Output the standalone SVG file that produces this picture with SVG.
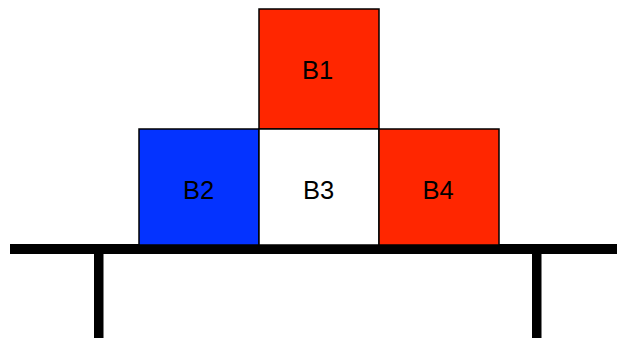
<svg xmlns="http://www.w3.org/2000/svg" width="617" height="338" viewBox="0 0 617 338">
<style>
.box{stroke:#000;stroke-width:1.5}
.red{fill:#FF2600}
.blue{fill:#0433FF}
.white{fill:#fff}
.lbl{font-family:"Liberation Sans",Arial,sans-serif;font-size:25.5px;fill:#000;text-anchor:middle}
.table{fill:#000}
</style>
<rect width="617" height="338" fill="#fff"/>
<g id="table">
<rect class="table" x="10" y="244" width="607" height="10"/>
<rect class="table" x="94" y="252" width="9.5" height="86"/>
<rect class="table" x="532" y="252" width="9.5" height="86"/>
</g>
<g id="B1">
<rect class="box red" x="259" y="9" width="120" height="120"/>
<text class="lbl" x="317.5" y="78.5">B1</text>
</g>
<g id="B2">
<rect class="box blue" x="139" y="129" width="120" height="116"/>
<text class="lbl" x="198.5" y="198.5">B2</text>
</g>
<g id="B3">
<rect class="box white" x="259" y="129" width="120" height="116"/>
<text class="lbl" x="318.5" y="198.5">B3</text>
</g>
<g id="B4">
<rect class="box red" x="379" y="129" width="120" height="116"/>
<text class="lbl" x="438" y="198.5">B4</text>
</g>
<g id="connectors"/>
</svg>
